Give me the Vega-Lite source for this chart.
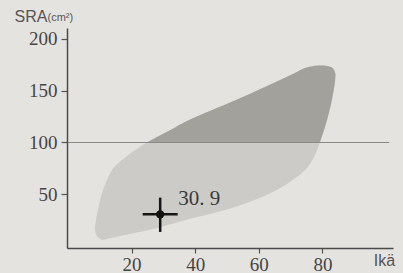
{
  "$schema": "https://vega.github.io/schema/vega-lite/v6.json",
  "width": 326,
  "height": 220,
  "autosize": "none",
  "padding": {"left": 67, "top": 28, "right": 10, "bottom": 25},
  "background": "#e5e3df",
  "config": {
    "view": {"stroke": null},
    "axis": {
      "grid": false,
      "domainColor": "#4a4a4a",
      "domainWidth": 1.5,
      "tickColor": "#555555",
      "tickWidth": 1.2,
      "tickSize": 6,
      "labelFont": "Liberation Serif",
      "labelFontSize": 19,
      "labelColor": "#454545",
      "titleFont": "Liberation Sans",
      "titleFontWeight": "normal",
      "titleColor": "#555555"
    }
  },
  "datasets": {
    "blob": [
      {"sra": 6.5, "ika_min": 10.5, "ika_max": 11.5},
      {"sra": 10, "ika_min": 9.1, "ika_max": 16.5},
      {"sra": 16, "ika_min": 8.5, "ika_max": 25.8},
      {"sra": 25, "ika_min": 8.8, "ika_max": 36.5},
      {"sra": 35, "ika_min": 9.4, "ika_max": 49.4},
      {"sra": 43, "ika_min": 10, "ika_max": 57.2},
      {"sra": 50, "ika_min": 10.6, "ika_max": 62.8},
      {"sra": 62, "ika_min": 12, "ika_max": 69.8},
      {"sra": 75, "ika_min": 14.2, "ika_max": 75},
      {"sra": 88, "ika_min": 19, "ika_max": 77.7},
      {"sra": 100, "ika_min": 24.8, "ika_max": 79.2},
      {"sra": 115, "ika_min": 34, "ika_max": 80.8},
      {"sra": 122, "ika_min": 38.4, "ika_max": 81.5},
      {"sra": 141, "ika_min": 53, "ika_max": 83},
      {"sra": 160, "ika_min": 66.7, "ika_max": 84},
      {"sra": 167, "ika_min": 71.5, "ika_max": 84},
      {"sra": 172, "ika_min": 75, "ika_max": 83},
      {"sra": 174, "ika_min": 78.5, "ika_max": 80.5}
    ],
    "case": [
      {"ika": 29, "sra": 30.9, "ika_lo": 23.5, "ika_hi": 34.5, "sra_lo": 14, "sra_hi": 47, "label": "30. 9"}
    ],
    "ref": [{"sra": 100}]
  },
  "resolve": {"axis": {"y": "independent"}},
  "layer": [
    {
      "data": {"name": "blob"},
      "mark": {"type": "area", "orient": "horizontal", "interpolate": "catmull-rom", "color": "#cdcbc7", "opacity": 1},
      "encoding": {
        "y": {
          "field": "sra", "type": "quantitative",
          "scale": {"domain": [-1.45, 210.1], "nice": false, "zero": false},
          "axis": {
            "values": [50, 100, 150, 200],
            "labelPadding": 4,
            "title": "SRA",
            "titleAngle": 0,
            "titleAlign": "left",
            "titleBaseline": "alphabetic",
            "titleX": -53,
            "titleY": -7,
            "titleFontSize": 16
          }
        },
        "x": {
          "field": "ika_min", "type": "quantitative",
          "scale": {"domain": [-0.3, 102.2], "nice": false, "zero": false},
          "axis": {
            "values": [20, 40, 60, 80],
            "tickSize": 5,
            "labelPadding": 2,
            "title": "Ikä",
            "titleFontSize": 16,
            "titleAlign": "center",
            "titleBaseline": "alphabetic",
            "titleX": 317,
            "titleY": 17
          }
        },
        "x2": {"field": "ika_max"}
      }
    },
    {
      "data": {"name": "blob"},
      "transform": [{"filter": "datum.sra >= 100"}],
      "mark": {"type": "area", "orient": "horizontal", "interpolate": "catmull-rom", "color": "#a3a19c", "opacity": 1},
      "encoding": {
        "y": {"field": "sra", "type": "quantitative", "axis": null},
        "x": {"field": "ika_min", "type": "quantitative"},
        "x2": {"field": "ika_max"}
      }
    },
    {
      "data": {"name": "ref"},
      "mark": {"type": "rule", "color": "#8a8987", "strokeWidth": 1.2},
      "encoding": {
        "y": {
          "field": "sra", "type": "quantitative",
          "axis": {
            "orient": "right",
            "labels": false,
            "ticks": false,
            "domain": false,
            "title": "(cm²)",
            "titleAngle": 0,
            "titleAlign": "left",
            "titleBaseline": "alphabetic",
            "titleX": -346,
            "titleY": -8,
            "titleFontSize": 11
          }
        },
        "x": {"datum": 0},
        "x2": {"datum": 101}
      }
    },
    {
      "data": {"name": "case"},
      "mark": {"type": "rule", "color": "#151515", "strokeWidth": 2.5},
      "encoding": {
        "y": {"field": "sra", "type": "quantitative", "axis": null},
        "x": {"field": "ika_lo", "type": "quantitative"},
        "x2": {"field": "ika_hi"}
      }
    },
    {
      "data": {"name": "case"},
      "mark": {"type": "rule", "color": "#151515", "strokeWidth": 2.5},
      "encoding": {
        "x": {"field": "ika", "type": "quantitative"},
        "y": {"field": "sra_lo", "type": "quantitative", "axis": null},
        "y2": {"field": "sra_hi"}
      }
    },
    {
      "data": {"name": "case"},
      "mark": {"type": "point", "filled": true, "shape": "circle", "size": 70, "color": "#111111", "opacity": 1},
      "encoding": {
        "x": {"field": "ika", "type": "quantitative"},
        "y": {"field": "sra", "type": "quantitative", "axis": null}
      }
    },
    {
      "data": {"name": "case"},
      "mark": {"type": "text", "font": "Liberation Serif", "fontSize": 21, "color": "#3a3a3a", "align": "left", "baseline": "alphabetic", "dx": 18, "dy": -9},
      "encoding": {
        "x": {"field": "ika", "type": "quantitative"},
        "y": {"field": "sra", "type": "quantitative", "axis": null},
        "text": {"field": "label"}
      }
    }
  ]
}
